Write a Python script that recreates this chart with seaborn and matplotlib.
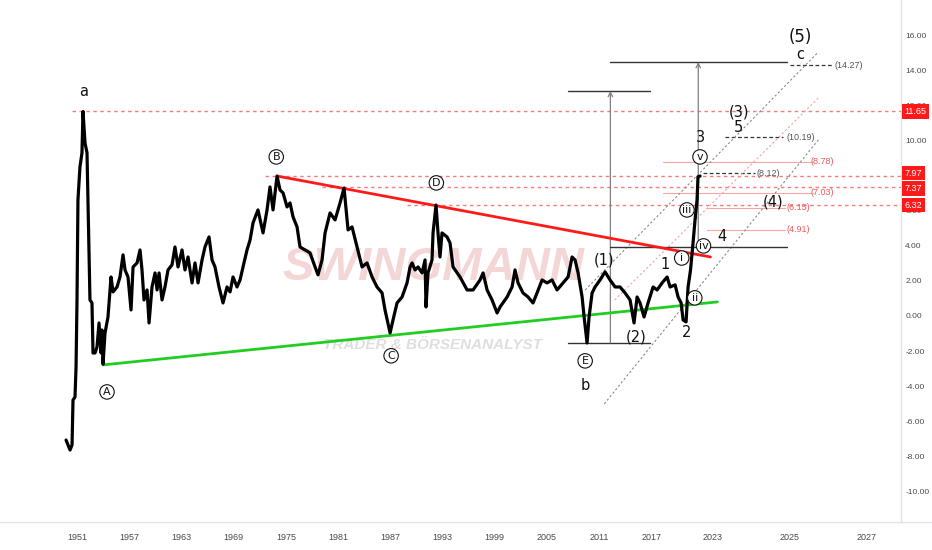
import numpy as np
import pandas as pd
import matplotlib
matplotlib.use('Agg')
import matplotlib.pyplot as plt
from matplotlib.patches import FancyArrowPatch
import seaborn as sns

# price series
years = [1949.74, 1950.20, 1950.43, 1950.54, 1950.77, 1950.89, 1951.00, 1951.11, 1951.34, 1951.57,
         1951.69, 1951.92, 1952.15, 1952.26, 1952.49, 1952.72, 1952.84, 1953.07, 1953.30, 1953.53,
         1953.76, 1953.87, 1953.99, 1954.22, 1954.56, 1954.91, 1955.14, 1955.60, 1955.94, 1956.29,
         1956.52, 1956.86, 1957.21, 1957.44, 1957.90, 1958.24, 1958.47, 1958.70, 1959.05, 1959.28,
         1959.62, 1959.97, 1960.20, 1960.43, 1960.77, 1961.11, 1961.46, 1961.92, 1962.26, 1962.61,
         1963.07, 1963.41, 1963.76, 1964.22, 1964.56, 1964.91, 1965.37, 1965.71, 1966.17, 1966.52,
         1966.86, 1967.32, 1967.78, 1968.24, 1968.59, 1968.93, 1969.39, 1969.74, 1970.08, 1970.54,
         1970.89, 1971.23, 1971.80, 1972.38, 1972.84, 1973.18, 1973.53, 1973.99, 1974.33, 1974.68,
         1975.14, 1975.48, 1975.83, 1976.29, 1976.63, 1977.21, 1977.78, 1978.36, 1978.70, 1979.16,
         1979.51, 1980.08, 1980.66, 1981.23, 1981.69, 1982.15, 1982.61, 1983.18, 1983.76, 1984.33,
         1984.91, 1985.48, 1986.06, 1986.40, 1986.98, 1987.32, 1987.78, 1988.36, 1988.93, 1989.28,
         1989.51, 1989.85, 1990.20, 1990.66, 1991.00, 1991.11, 1991.34, 1991.80, 1991.92, 1992.26,
         1992.49, 1992.72, 1992.95, 1993.53, 1993.87, 1994.22, 1995.02, 1995.83, 1996.52, 1997.32,
         1997.67, 1998.13, 1998.70, 1999.28, 1999.62, 2000.43, 2001.00, 2001.34, 2001.69, 2002.26,
         2002.84, 2003.41, 2003.87, 2004.45, 2005.02, 2005.60, 2006.17, 2006.86, 2007.44, 2007.90,
         2008.24, 2008.59, 2009.05, 2009.28, 2009.62, 2009.85, 2010.20, 2010.54, 2011.11, 2011.69,
         2012.26, 2012.84, 2013.41, 2013.99, 2014.56, 2015.02, 2015.37, 2015.71, 2016.17, 2016.63,
         2017.21, 2017.67, 2018.24, 2018.82, 2019.16, 2019.74, 2020.08, 2020.43, 2020.66, 2021.00,
         2021.23, 2021.51, 2021.80, 2022.03, 2022.26, 2022.37, 2022.61]
values = [-7.07, -7.64, -7.35, -4.79, -4.62, -2.91, 0.91, 6.61, 8.49, 9.29,
          11.65, 9.86, 9.29, 6.61, 0.91, 0.74, -2.11, -2.11, -1.77, -0.40,
          -2.11, -0.80, -2.75, -0.97, -0.06, 2.22, 1.37, 1.65, 2.22, 3.48,
          2.62, 2.22, 0.34, 2.79, 3.02, 3.76, 2.62, 0.91, 1.48, -0.40,
          1.65, 2.45, 1.48, 2.45, 0.91, 1.65, 2.62, 2.91, 3.93, 2.79,
          3.76, 2.62, 3.36, 1.88, 3.02, 1.88, 3.19, 3.93, 4.50, 3.19,
          2.79, 1.65, 0.74, 1.65, 1.37, 2.22, 1.65, 2.05, 2.79, 3.76,
          4.33, 5.30, 6.04, 4.73, 6.04, 7.35, 6.04, 7.97, 7.18, 7.01,
          6.21, 6.44, 5.64, 5.07, 3.93, 3.76, 3.59, 2.79, 2.34, 3.19,
          4.73, 5.87, 5.47, 6.44, 7.29, 4.90, 5.07, 3.93, 2.79, 3.02,
          2.22, 1.65, 1.31, 0.34, -0.97, -0.23, 0.74, 1.08, 1.88, 2.79,
          3.02, 2.62, 2.79, 2.45, 3.19, 0.51, 2.45, 3.19, 4.73, 6.32,
          4.73, 3.36, 4.73, 4.50, 4.16, 2.79, 2.22, 1.48, 1.48, 2.05,
          2.45, 1.48, 0.91, 0.17, 0.51, 1.08, 1.65, 2.62, 1.88, 1.31,
          1.08, 0.74, 1.31, 2.05, 1.88, 2.05, 1.48, 1.88, 2.22, 3.36,
          3.19, 2.45, 1.08, -0.06, -1.54, -0.06, 1.31, 1.65, 2.05, 2.51,
          2.05, 1.65, 1.65, 1.31, 0.91, -0.40, 1.08, 0.74, -0.06, 0.74,
          1.65, 1.48, 1.88, 2.22, 1.65, 1.77, 1.08, 0.74, -0.23, -0.34,
          1.65, 2.62, 4.16, 5.47, 6.61, 7.92, 7.97]

# horizontal price levels (red dashed, boxed on the axis)
price_levels = [11.65, 7.97, 7.37, 6.32]
price_start = [1950.4, 1972.6, 1979.2, 1988.9]
price_box_y = [11.65, 8.13, 7.25, 6.32]

# fib levels (thin red) and targets (grey dashed)
fib_levels = [8.78, 7.03, 6.15, 4.91]
fib_start = [2018.4, 2018.4, 2023.4, 2023.4]
fib_end = [2035.6, 2035.6, 2032.4, 2032.4]
fib_label_x = [2036.7, 2036.7, 2033.9, 2033.9]
target_levels = [8.12, 10.19, 14.27]
target_start = [2023.0, 2025.5, 2033.0]
target_end = [2028.9, 2032.1, 2037.9]
target_label_x = [2030.5, 2034.2, 2039.7]

# triangle trendlines
upper_x = [1974.0, 2023.8]
upper_y = [7.97, 3.36]
lower_x = [1954.0, 2024.6]
lower_y = [-2.79, 0.80]

# channel lines
chan_x0 = [2009.4, 2012.8, 2011.6]
chan_y0 = [1.48, 0.91, -5.01]
chan_x1 = [2036.2, 2036.2, 2036.2]
chan_y1 = [15.04, 12.42, 10.03]
chan_col = ['#8a8a8a', '#f4a4a4', '#8a8a8a']

# measured moves: (left, right, bottom, top, arrow x)
proj_left = [2007.4, 2012.3]
proj_right = [2016.9, 2032.6]
proj_bottom = [-1.54, 3.93]
proj_top = [12.82, 14.47]
proj_arrow_x = [2012.3, 2022.4]

# wave counts
plain_text = ['a', 'b', '(1)', '(2)', '1', '2', '3', '4', '(3)', '5', '(4)', '(5)', 'c']
plain_x = [1951.8, 2009.4, 2011.6, 2015.3, 2018.6, 2021.0, 2022.6, 2025.1, 2027.1, 2027.0, 2031.0, 2034.1, 2034.1]
plain_y = [12.76, -3.99, 3.19, -1.20, 2.91, -0.97, 10.14, 4.50, 11.62, 10.71, 6.50, 15.90, 14.87]
circ_text = ['A', 'B', 'C', 'D', 'E', 'i', 'ii', 'iii', 'iv', 'v']
circ_x = [1954.45, 1973.9, 1987.1, 1992.3, 2009.4, 2020.5, 2022.0, 2021.1, 2023.0, 2022.6]
circ_y = [-4.33, 9.06, -2.27, 7.58, -2.56, 3.30, 1.03, 6.04, 3.99, 9.06]

# axis ticks
x_ticks = [1951, 1957, 1963, 1969, 1975, 1981, 1987, 1993, 1999, 2005, 2011, 2017, 2024.1, 2032.9, 2041.7]
x_labels = ['1951', '1957', '1963', '1969', '1975', '1981', '1987', '1993', '1999', '2005',
            '2011', '2017', '2023', '2025', '2027']
y_ticks = list(range(-10, 17, 2))

sns.set_theme(style='white')
plt.rcParams['font.family'] = ['DejaVu Sans']
narrow = ['Liberation Sans Narrow', 'Liberation Sans', 'DejaVu Sans']

fig = plt.figure(figsize=(9.32, 5.5), dpi=100)
ax = fig.add_axes([0, 28 / 550, 901 / 932, 522 / 550])

df = pd.DataFrame({'year': years, 'value': values})

# watermark
ax.text(1992.0, 2.75, 'SWINGMANN', fontsize=34, color='#f4d6d6', weight='heavy', style='italic',
        ha='center', va='center', family=narrow, zorder=0.5)
ax.text(1991.8, -1.65, 'TRADER & BÖRSENANALYST', fontsize=11, color='#dedede', weight='bold',
        style='italic', ha='center', va='center', family=narrow, zorder=0.5)

for lv, x0 in zip(price_levels, price_start):
    ax.plot([x0, 2046], [lv, lv], color='#f77b7b', lw=1, ls=(0, (2.5, 2.5)), zorder=1)

for lv, x0, x1, lx in zip(fib_levels, fib_start, fib_end, fib_label_x):
    ax.plot([x0, x1], [lv, lv], color='#f6a5a5', lw=0.8, zorder=1)
    ax.text(lx, lv, f'({lv:.2f})', color='#f05a5a', fontsize=6.5, ha='center', va='center', family=narrow)

for lv, x0, x1, lx in zip(target_levels, target_start, target_end, target_label_x):
    ax.plot([x0, x1], [lv, lv], color='#333333', lw=0.9, ls=(0, (3, 2)), zorder=1)
    ax.text(lx, lv, f'({lv:.2f})', color='#555555', fontsize=6.5, ha='center', va='center', family=narrow)

for x0, y0, x1, y1, c in zip(chan_x0, chan_y0, chan_x1, chan_y1, chan_col):
    ax.plot([x0, x1], [y0, y1], color=c, lw=0.8, ls=(0, (2, 2)), zorder=1)

for l, r, b, t, xa in zip(proj_left, proj_right, proj_bottom, proj_top, proj_arrow_x):
    ax.plot([l, r], [b, b], color='#333333', lw=1, zorder=1)
    ax.plot([l, r], [t, t], color='#333333', lw=1, zorder=1)
    ax.add_patch(FancyArrowPatch((xa, b), (xa, t), arrowstyle='->', mutation_scale=8,
                                 color='#808080', lw=0.9, shrinkA=0, shrinkB=0, zorder=1))

ax.plot(upper_x, upper_y, color='#ff1a1a', lw=2, zorder=2)
ax.plot(lower_x, lower_y, color='#22cc22', lw=2, zorder=2)

sns.lineplot(data=df, x='year', y='value', color='black', lw=2.3, ax=ax, zorder=3)

for t, x, y in zip(plain_text, plain_x, plain_y):
    fs = 12 if t == '(5)' else 10.5
    ax.text(x, y, t, fontsize=fs, color='#111111', ha='center', va='center', zorder=4)
for t, x, y in zip(circ_text, circ_x, circ_y):
    ax.text(x, y, t, fontsize=8, color='#111111', ha='center', va='center', zorder=4,
            bbox=dict(boxstyle='circle,pad=0.2', fc='white', ec='#111111', lw=0.8))

ax.set_xlim(1942.15, 2045.7)
ax.set_ylim(-11.74, 18.0)
ax.set_xticks(x_ticks)
ax.set_xticklabels(x_labels, fontsize=6.5, color='#4a4a4a', family=narrow)
ax.yaxis.tick_right()
ax.set_yticks(y_ticks)
ax.set_yticklabels([f'{v:.2f}' for v in y_ticks], fontsize=6, color='#4a4a4a', family=narrow)
ax.tick_params(axis='both', length=0)
ax.tick_params(axis='x', pad=8)
ax.tick_params(axis='y', pad=3)
ax.set_xlabel('')
ax.set_ylabel('')
for s in ['left', 'top']:
    ax.spines[s].set_visible(False)
for s in ['right', 'bottom']:
    ax.spines[s].set_color('#e0e3eb')
    ax.spines[s].set_linewidth(1)
fig.add_artist(plt.Line2D([901 / 932, 1], [28 / 550, 28 / 550], color='#e0e3eb', lw=1))

for lv, by in zip(price_levels, price_box_y):
    ax.text(1.004, by, f'{lv:.2f}', transform=ax.get_yaxis_transform(), fontsize=6.5, color='white',
            ha='left', va='center', family=narrow, zorder=6, clip_on=False,
            bbox=dict(boxstyle='square,pad=0.3', fc='#ff1a1a', ec='none'))

fig.savefig('out.png', dpi=100)
